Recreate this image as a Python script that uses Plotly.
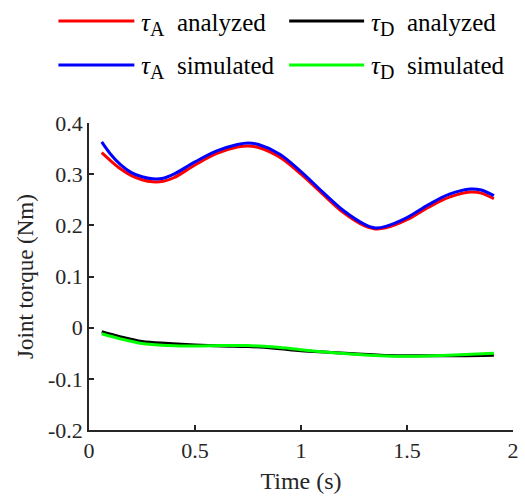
import plotly.graph_objects as go

# Data
t_A = [0.06, 0.1, 0.15, 0.2, 0.25, 0.3, 0.35, 0.4, 0.5, 0.6, 0.7, 0.75, 0.8, 0.9, 1.0, 1.1, 1.2, 1.3, 1.35, 1.4, 1.5, 1.6, 1.7, 1.8, 1.85, 1.91]
tauA_analyzed = [0.342, 0.327, 0.310, 0.297, 0.289, 0.285, 0.286, 0.293, 0.318, 0.340, 0.353, 0.355, 0.352, 0.333, 0.300, 0.262, 0.225, 0.199, 0.193, 0.195, 0.211, 0.235, 0.255, 0.265, 0.263, 0.252]
tauA_simulated = [0.363, 0.340, 0.318, 0.303, 0.295, 0.291, 0.292, 0.300, 0.324, 0.345, 0.358, 0.361, 0.358, 0.339, 0.305, 0.266, 0.229, 0.202, 0.195, 0.198, 0.215, 0.240, 0.261, 0.271, 0.269, 0.258]

t_D = [0.06, 0.15, 0.25, 0.375, 0.5, 0.625, 0.75, 0.875, 1.0, 1.125, 1.25, 1.375, 1.5, 1.625, 1.75, 1.91]
tauD_analyzed = [-0.008, -0.018, -0.027, -0.031, -0.034, -0.036, -0.037, -0.040, -0.045, -0.048, -0.051, -0.054, -0.055, -0.055, -0.055, -0.054]
tauD_simulated = [-0.012, -0.022, -0.031, -0.035, -0.036, -0.035, -0.035, -0.038, -0.043, -0.048, -0.052, -0.055, -0.056, -0.055, -0.053, -0.050]

legend_labels = [
    "<i>τ</i><sub><span style='font-size:20px'>A</span></sub>&nbsp; analyzed",
    "<i>τ</i><sub><span style='font-size:20px'>D</span></sub>&nbsp; analyzed",
    "<i>τ</i><sub><span style='font-size:20px'>A</span></sub>&nbsp; simulated",
    "<i>τ</i><sub><span style='font-size:20px'>D</span></sub>&nbsp; simulated",
]
series = [
    (legend_labels[0], t_A, tauA_analyzed, "#ff0000"),
    (legend_labels[1], t_D, tauD_analyzed, "#000000"),
    (legend_labels[2], t_A, tauA_simulated, "#0000ff"),
    (legend_labels[3], t_D, tauD_simulated, "#00ff00"),
]

FONT = "Times New Roman, Liberation Serif, serif"
AX = "#262626"

fig = go.Figure()
draw_order = [0, 2, 1, 3]
for i in draw_order:
    name, x, y, c = series[i]
    fig.add_trace(go.Scatter(x=x, y=y, mode="lines", name=name,
                             line=dict(color=c, width=3, shape="spline", smoothing=1.0),
                             showlegend=False))

# Manual legend (2 x 2)
L, R, T, B = 89, 519, 123, 430
W, H = R - L, B - T
def px(xp):
    return (xp - L) / W
def py(yp):
    return (B - yp) / H

legend_pos = [(58, 135, 140, 21), (292, 368, 373, 21), (58, 135, 140, 65), (292, 368, 373, 65)]
shapes = []
annotations = []
for (name, _, _, c), (x0, x1, xt, yy) in zip(series, legend_pos):
    shapes.append(dict(type="line", xref="paper", yref="paper",
                       x0=px(x0), x1=px(x1), y0=py(yy), y1=py(yy),
                       line=dict(color=c, width=3)))
    annotations.append(dict(text=name, xref="paper", yref="paper",
                            x=px(xt), y=py(yy + 3), xanchor="left", yanchor="middle",
                            showarrow=False, font=dict(family=FONT, size=25, color="#000000")))

fig.update_layout(
    width=525, height=496,
    margin=dict(l=L, r=525 - R, t=T, b=496 - B),
    paper_bgcolor="white", plot_bgcolor="white",
    font=dict(family=FONT, size=22, color=AX),
    shapes=shapes, annotations=annotations,
    xaxis=dict(range=[0, 2], tickvals=[0, 0.5, 1, 1.5, 2], ticktext=["0", "0.5", "1", "1.5", "2"],
               ticks="inside", ticklen=5, tickwidth=1.5, tickcolor=AX,
               showline=True, linecolor=AX, linewidth=1.5, showgrid=False, zeroline=False,
               title=dict(text="Time (s)", font=dict(family=FONT, size=24, color=AX), standoff=10),
               tickfont=dict(family=FONT, size=22, color=AX)),
    yaxis=dict(range=[-0.2, 0.4], tickvals=[-0.2, -0.1, 0, 0.1, 0.2, 0.3, 0.4],
               ticktext=["-0.2", "-0.1", "0", "0.1", "0.2", "0.3", "0.4"],
               ticks="inside", ticklen=5, tickwidth=1.5, tickcolor=AX,
               showline=True, linecolor=AX, linewidth=1.5, showgrid=False, zeroline=False,
               title=dict(text="Joint torque (Nm)", font=dict(family=FONT, size=23, color=AX), standoff=8),
               tickfont=dict(family=FONT, size=22, color=AX)),
)

fig.write_html("out.html")
